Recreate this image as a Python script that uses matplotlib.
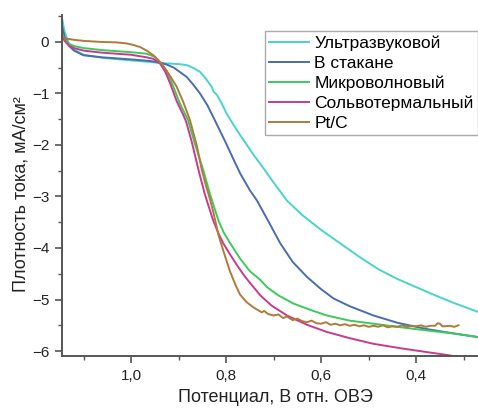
import matplotlib
matplotlib.use("Agg")
import matplotlib.pyplot as plt
from matplotlib.ticker import FixedLocator, FuncFormatter, MultipleLocator

plt.rcParams['font.family'] = ['Liberation Sans', 'DejaVu Sans']

labels = ["Ультразвуковой", "В стакане", "Микроволновый", "Сольвотермальный", "Pt/C"]
colors = ["#48D4CC", "#4A6DB0", "#3DC95C", "#C83A8C", "#B07B3A"]

x_us = [1.145, 1.14, 1.13, 1.12, 1.10, 1.06, 1.00, 0.96, 0.94, 0.92, 0.90, 0.883, 0.87, 0.855, 0.842,
        0.83, 0.826, 0.82, 0.81, 0.799, 0.785, 0.771, 0.755, 0.74, 0.72, 0.70, 0.672, 0.64, 0.60, 0.56,
        0.52, 0.48, 0.44, 0.40, 0.36, 0.32, 0.27]
y_us = [0.45, 0.2, -0.05, -0.15, -0.25, -0.31, -0.36, -0.39, -0.41, -0.42, -0.43, -0.45, -0.5, -0.58, -0.72,
        -0.88, -0.97, -1.02, -1.18, -1.39, -1.6, -1.8, -2.02, -2.22, -2.47, -2.73, -3.08, -3.36, -3.65, -3.91,
        -4.17, -4.41, -4.6, -4.76, -4.92, -5.07, -5.24]

x_gl = [1.145, 1.14, 1.13, 1.12, 1.10, 1.06, 1.00, 0.96, 0.94, 0.925, 0.91, 0.895, 0.883, 0.87, 0.855,
        0.84, 0.827, 0.81, 0.80, 0.785, 0.77, 0.75, 0.735, 0.71, 0.686, 0.66, 0.63, 0.60, 0.574, 0.54,
        0.49, 0.44, 0.38, 0.32, 0.27]
y_gl = [0.3, 0.1, -0.08, -0.17, -0.26, -0.3, -0.34, -0.37, -0.4, -0.44, -0.5, -0.6, -0.68, -0.82, -1.0,
        -1.22, -1.46, -1.78, -1.97, -2.27, -2.56, -2.88, -3.08, -3.5, -3.91, -4.27, -4.56, -4.8, -4.98, -5.13,
        -5.31, -5.45, -5.57, -5.66, -5.73]

x_mw = [1.145, 1.14, 1.13, 1.12, 1.10, 1.06, 1.00, 0.967, 0.95, 0.939, 0.925, 0.911, 0.897, 0.88, 0.865,
        0.848, 0.834, 0.823, 0.816, 0.805, 0.792, 0.771, 0.75, 0.728, 0.714, 0.69, 0.658, 0.62, 0.588, 0.54,
        0.49, 0.44, 0.378, 0.32, 0.27]
y_mw = [0.15, 0.05, -0.04, -0.08, -0.12, -0.16, -0.2, -0.23, -0.29, -0.39, -0.56, -0.87, -1.2, -1.52, -2.0,
        -2.49, -2.95, -3.27, -3.47, -3.7, -3.9, -4.2, -4.45, -4.62, -4.76, -4.92, -5.08, -5.21, -5.31, -5.41,
        -5.47, -5.53, -5.6, -5.66, -5.73]

x_st = [1.145, 1.14, 1.13, 1.12, 1.10, 1.06, 1.00, 0.967, 0.953, 0.939, 0.928, 0.918, 0.904, 0.89, 0.884,
        0.872, 0.858, 0.845, 0.834, 0.827, 0.816, 0.806, 0.792, 0.776, 0.76, 0.745, 0.728, 0.704, 0.672, 0.63,
        0.588, 0.54, 0.49, 0.43, 0.378, 0.34, 0.30]
y_st = [0.12, 0.02, -0.08, -0.12, -0.17, -0.21, -0.25, -0.3, -0.33, -0.42, -0.58, -0.8, -1.15, -1.42, -1.55,
        -1.95, -2.49, -2.95, -3.27, -3.47, -3.72, -3.91, -4.12, -4.35, -4.56, -4.73, -4.92, -5.12, -5.31, -5.49,
        -5.63, -5.75, -5.86, -5.95, -6.02, -6.07, -6.13]

x_pt = [1.145, 1.14, 1.12, 1.10, 1.065, 1.03, 1.009, 0.995, 0.981, 0.967, 0.953, 0.942, 0.932, 0.918, 0.904,
        0.89, 0.876, 0.862, 0.851, 0.842, 0.834, 0.827, 0.816, 0.806, 0.792, 0.78, 0.771, 0.757, 0.743, 0.732,
        0.725, 0.72, 0.712, 0.70, 0.69, 0.68, 0.672, 0.66, 0.65, 0.64, 0.63, 0.62, 0.61, 0.60, 0.59, 0.58,
        0.57, 0.56, 0.55, 0.54, 0.53, 0.52, 0.51, 0.50, 0.49, 0.48, 0.47, 0.46, 0.45, 0.44, 0.43, 0.42, 0.41,
        0.40, 0.39, 0.38, 0.37, 0.36, 0.355, 0.35, 0.345, 0.34, 0.33, 0.32, 0.311]
y_pt = [0.12, 0.07, 0.04, 0.02, 0.0, -0.01, -0.03, -0.06, -0.1, -0.17, -0.26, -0.36, -0.47, -0.66, -0.87,
        -1.17, -1.52, -2.0, -2.49, -2.8, -3.05, -3.3, -3.75, -4.05, -4.45, -4.72, -4.9, -5.05, -5.15, -5.21,
        -5.25, -5.22, -5.28, -5.31, -5.29, -5.36, -5.33, -5.4, -5.37, -5.42, -5.44, -5.41, -5.46, -5.47, -5.44,
        -5.49, -5.47, -5.5, -5.48, -5.51, -5.49, -5.52, -5.5, -5.53, -5.51, -5.53, -5.5, -5.54, -5.52, -5.53,
        -5.5, -5.53, -5.51, -5.52, -5.5, -5.53, -5.51, -5.51, -5.46, -5.47, -5.52, -5.52, -5.51, -5.53, -5.5]

xs = [x_us, x_gl, x_mw, x_st, x_pt]
ys = [y_us, y_gl, y_mw, y_st, y_pt]

x_major = [1.0, 0.8, 0.6, 0.4]
x_minor = [1.1, 0.9, 0.7, 0.5, 0.3]
y_major = [0, -1, -2, -3, -4, -5, -6]

fig = plt.figure(figsize=(4.78, 4.08), dpi=100)
ax = fig.add_axes([0.129, 0.127, 0.871, 0.836])

for x, y, c, l in zip(xs, ys, colors, labels):
    ax.plot(x, y, color=c, lw=1.4, label=l)

ax.set_xlim(1.146, 0.27)
ax.set_ylim(-6.1, 0.52)

ax.xaxis.set_major_locator(FixedLocator(x_major))
ax.xaxis.set_minor_locator(FixedLocator(x_minor))
ax.xaxis.set_major_formatter(FuncFormatter(lambda v, p: f"{v:.1f}".replace('.', ',')))
ax.yaxis.set_major_locator(FixedLocator(y_major))
ax.yaxis.set_minor_locator(MultipleLocator(0.5))
ax.yaxis.set_major_formatter(FuncFormatter(lambda v, p: f"{int(round(v))}".replace('-', '\u2212')))

spc = "#555555"
for s in ['top', 'right']:
    ax.spines[s].set_visible(False)
for s in ['left', 'bottom']:
    ax.spines[s].set_color(spc)
    ax.spines[s].set_linewidth(1.4)
ax.tick_params(which='major', direction='out', length=5, width=1.2, color=spc, labelsize=11,
               labelcolor='#222222', pad=4)
ax.tick_params(which='minor', direction='out', length=3, width=1.0, color=spc)

ax.set_xlabel("Потенциал, В отн. ОВЭ", fontsize=13, color='#222222')
ax.xaxis.set_label_coords(0.514, -0.095)
ax.set_ylabel("Плотность тока, мА/см²", fontsize=13, color='#222222')
ax.yaxis.set_label_coords(-0.077, 0.4765)

leg = ax.legend(loc='upper right', bbox_to_anchor=(1.0, 0.953), borderaxespad=0, fontsize=12.5,
                frameon=True, fancybox=False, edgecolor='#aaaaaa', framealpha=1,
                handlelength=2.3, handletextpad=0.3, labelspacing=0.27, borderpad=0.25)
leg.get_frame().set_linewidth(1.0)

fig.savefig("out.png", dpi=100)
